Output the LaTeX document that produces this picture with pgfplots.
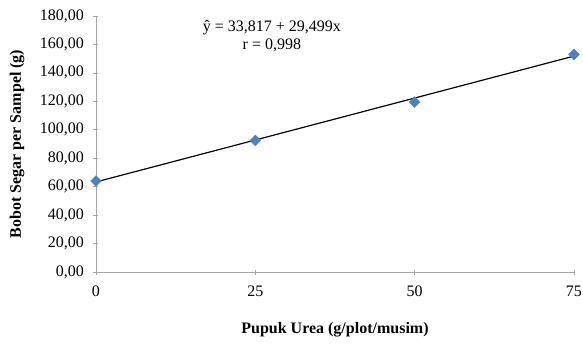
\documentclass[border=0pt]{standalone}
\usepackage{pgfplots}
\pgfplotsset{compat=1.18}
\usepackage{fontspec}
\setmainfont{Liberation Serif}
\definecolor{mkblue}{HTML}{4F81BD}
\begin{document}
\begin{tikzpicture}
\useasboundingbox (-96bp,-73bp) rectangle (487bp,272bp);
\begin{axis}[
  at={(0,0)}, anchor=south west,
  scale only axis, width=478bp, height=256bp,
  xmin=0, xmax=75, ymin=0, ymax=180,
  xtick={0,25,50,75}, ytick={0,20,...,180},
  axis lines*=left,
  axis line style={draw=gray!70, line width=0.6pt},
  tick style={draw=gray!70, line width=0.6pt},
  tick align=center, major tick length=5bp,
  /pgf/number format/assume math mode=true,
  yticklabel style={/pgf/number format/fixed, /pgf/number format/fixed zerofill, /pgf/number format/precision=2, /pgf/number format/use comma, /pgf/number format/1000 sep={}, xshift=-6bp},
  xticklabel style={/pgf/number format/fixed, /pgf/number format/precision=0, yshift=-8bp},
  ticklabel style={font=\fontsize{16bp}{18bp}\selectfont},
  xlabel={\textbf{Pupuk Urea (g/plot/musim)}},
  ylabel={\textbf{Bobot Segar per Sampel (g)}},
  label style={font=\fontsize{16bp}{18bp}\selectfont},
  xlabel style={at={(axis description cs:0.5,-0.227)}, anchor=center},
  ylabel style={at={(axis description cs:-0.165,0.5)}, anchor=center},
  clip=false,
]
\addplot[black, line width=1.2pt, no marks] coordinates {(0,63.316) (75,151.813)};
\addplot[only marks, mark=square*, mark size=3.8bp, mark options={fill=mkblue, draw=mkblue, rotate=45}] coordinates {(0,64) (25,92.5) (50,119.5) (75,153)};
\node[font=\fontsize{16bp}{18bp}\selectfont, align=center] at (axis cs:27.6,165.5) {ŷ = 33,817 + 29,499x\\r = 0,998};
\end{axis}
\end{tikzpicture}
\end{document}
